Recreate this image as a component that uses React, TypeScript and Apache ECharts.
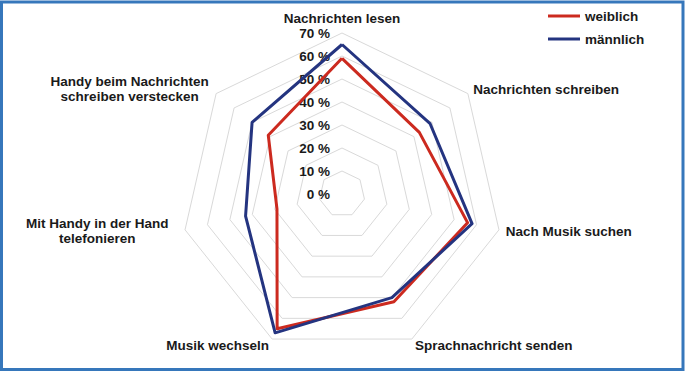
import React, { useEffect, useRef } from "react";
import * as echarts from "echarts";

// Categories in clockwise order starting at the top
const categories = [
  "Nachrichten lesen",
  "Nachrichten schreiben",
  "Nach Musik suchen",
  "Sprachnachricht senden",
  "Musik wechseln",
  "Mit Handy in der Hand\ntelefonieren",
  "Handy beim Nachrichten\nschreiben verstecken",
];
const weiblich = [59, 43, 56, 52, 65, 29, 41];
const maennlich = [65, 49, 58, 50, 67, 43, 50];
const seriesNames = ["weiblich", "männlich"];
const axisMax = 70;
const axisSplits = 7;

// ECharts lays indicators out counter-clockwise: reorder to get clockwise
const order = [0, ...Array.from({ length: categories.length - 1 }, (_, i) => categories.length - 1 - i)];

export default function App() {
  const ref = useRef<HTMLDivElement>(null);
  useEffect(() => {
    if (!ref.current) return;
    const chart = echarts.init(ref.current, null, { renderer: "svg" });
    const font = "Arial, 'Liberation Sans', sans-serif";
    const fs = 13.5;
    const indicator = order.map((idx, k) => {
      const ind: any = { name: categories[idx], max: axisMax, min: 0 };
      if (k === 0) {
        ind.axisLabel = {
          show: true,
          formatter: "{value} %",
          margin: 12,
          color: "#1a1a1a",
          fontWeight: "bold",
          fontSize: fs,
          fontFamily: font,
        };
      }
      return ind;
    });
    chart.setOption({
      animation: false,
      backgroundColor: "#ffffff",
      legend: {
        data: seriesNames,
        orient: "vertical",
        left: 548,
        top: 9,
        padding: 0,
        itemWidth: 32,
        itemHeight: 3,
        itemGap: 9,
        icon: "rect",
        textStyle: { color: "#1a1a1a", fontWeight: "bold", fontSize: fs, fontFamily: font },
      },
      radar: {
        center: [342, 194],
        radius: 161,
        shape: "polygon",
        splitNumber: axisSplits,
        startAngle: 90,
        nameGap: 7,
        axisName: {
          color: "#1a1a1a",
          fontWeight: "bold",
          fontSize: fs,
          fontFamily: font,
          lineHeight: 15,
          formatter: (name: string) => {
            if (name.indexOf("\n") >= 0) {
              return name
                .split("\n")
                .map((l) => "{c|" + l + "}")
                .join("\n");
            }
            return name;
          },
          rich: {
            c: {
              width: 162,
              align: "center",
              color: "#1a1a1a",
              fontWeight: "bold",
              fontSize: fs,
              fontFamily: font,
              lineHeight: 15,
            },
          },
        },
        axisLine: { show: false },
        axisTick: { show: false },
        splitArea: { show: false },
        splitLine: { lineStyle: { color: "#d9d9d9", width: 1 } },
        indicator,
      },
      series: [
        {
          type: "radar",
          symbol: "none",
          data: [
            {
              name: seriesNames[0],
              value: order.map((i) => weiblich[i]),
              lineStyle: { color: "#cc2a1f", width: 3 },
              itemStyle: { color: "#cc2a1f" },
            },
            {
              name: seriesNames[1],
              value: order.map((i) => maennlich[i]),
              lineStyle: { color: "#243480", width: 3 },
              itemStyle: { color: "#243480" },
            },
          ],
        },
      ],
      graphic: [
        {
          type: "rect",
          shape: { x: 1.5, y: 2, width: 681.5, height: 367.5 },
          style: { fill: "none", stroke: "#3677bb", lineWidth: 3 },
          silent: true,
        },
      ],
    });
    return () => chart.dispose();
  }, []);
  return (
    <div
      ref={ref}
      style={{ position: "fixed", left: 0, top: 0, width: 685, height: 372 }}
    />
  );
}
